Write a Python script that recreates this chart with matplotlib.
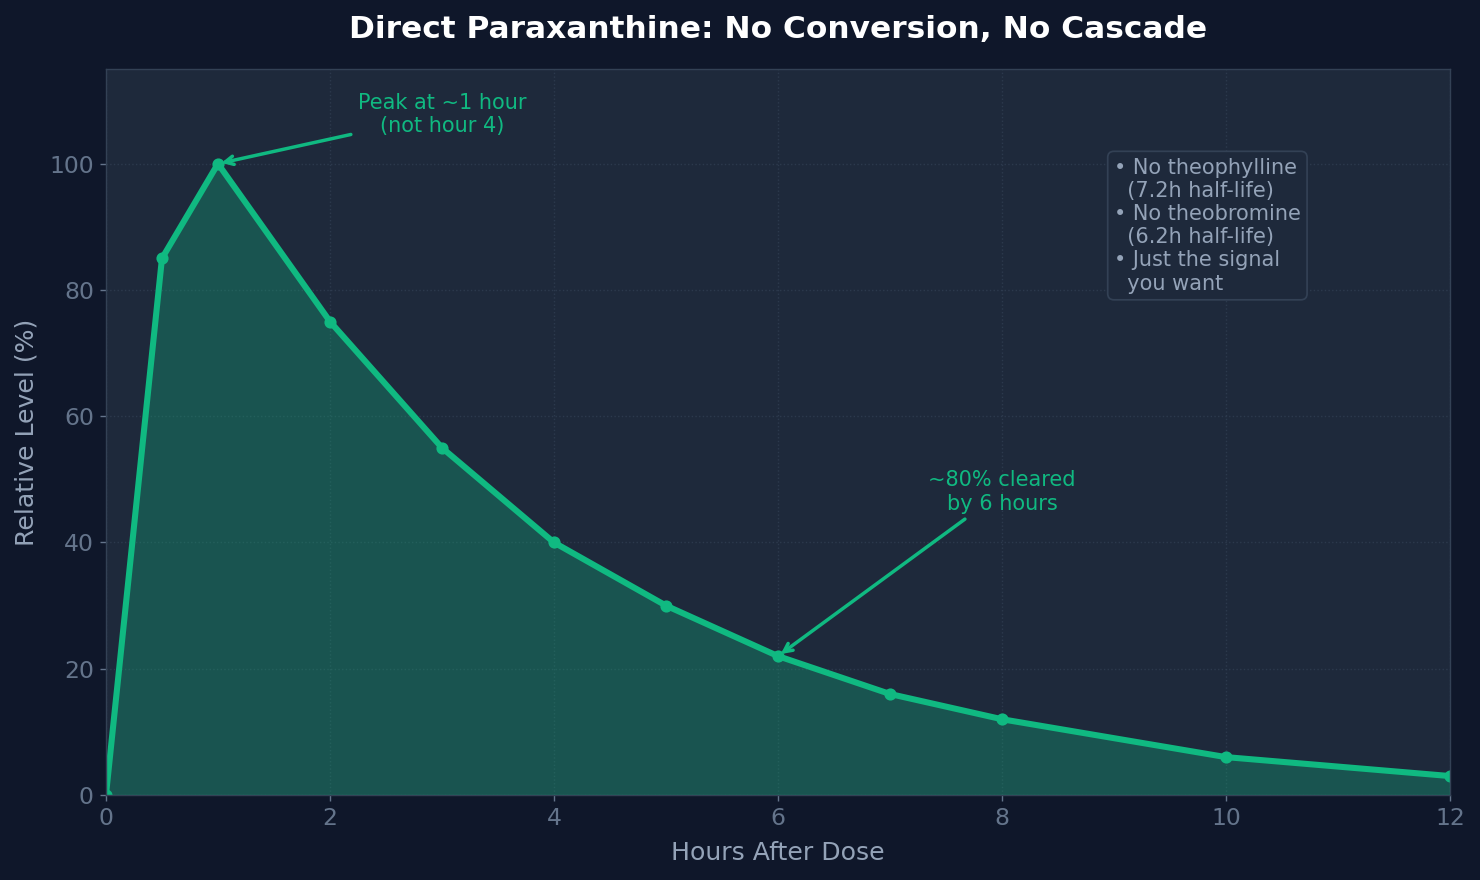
import matplotlib.pyplot as plt

hours = [0, 0.5, 1, 2, 3, 4, 5, 6, 7, 8, 10, 12]
level = [0, 85, 100, 75, 55, 40, 30, 22, 16, 12, 6, 3]

bg = "#0f172a"
panel = "#1e293b"
green = "#10b981"
grid_c = "#334155"
muted = "#94a3b8"
tick_c = "#64748b"

fig, ax = plt.subplots(figsize=(11.84, 7.04), dpi=125)
fig.patch.set_facecolor(bg)
ax.set_facecolor(panel)

ax.fill_between(hours, level, color=green, alpha=0.3)
ax.plot(hours, level, color=green, linewidth=3.5, marker="o", markersize=6)

ax.set_xlim(0, 12)
ax.set_ylim(0, 115)
ax.set_xticks([0, 2, 4, 6, 8, 10, 12])
ax.set_yticks([0, 20, 40, 60, 80, 100])
ax.grid(True, color=grid_c, linestyle=":", linewidth=0.8, alpha=0.7)
ax.set_axisbelow(True)

for s in ax.spines.values():
    s.set_color(grid_c)
ax.tick_params(colors=tick_c, labelsize=13.5)

ax.set_xlabel("Hours After Dose", color=muted, fontsize=14.5, labelpad=6)
ax.set_ylabel("Relative Level (%)", color=muted, fontsize=14.5, labelpad=6)
ax.set_title("Direct Paraxanthine: No Conversion, No Cascade",
             color="white", fontsize=18, fontweight="bold", pad=18)

ax.annotate("Peak at ~1 hour\n(not hour 4)", xy=(1, 100), xytext=(3, 107.8),
            color=green, fontsize=12, ha="center", va="center",
            arrowprops=dict(arrowstyle="->", color=green, lw=2))
ax.annotate("~80% cleared\nby 6 hours", xy=(6, 22), xytext=(8, 48),
            color=green, fontsize=12, ha="center", va="center",
            arrowprops=dict(arrowstyle="->", color=green, lw=2))

note = ("• No theophylline\n  (7.2h half-life)\n• No theobromine\n"
        "  (6.2h half-life)\n• Just the signal\n  you want")
ax.text(0.75, 0.878, note, transform=ax.transAxes, color=muted, fontsize=12,
        va="top", ha="left",
        bbox=dict(boxstyle="round,pad=0.3", facecolor=panel, edgecolor=grid_c))

fig.subplots_adjust(left=0.0716, right=0.9797, top=0.9216, bottom=0.0966)
plt.savefig("out.png", facecolor=bg)
